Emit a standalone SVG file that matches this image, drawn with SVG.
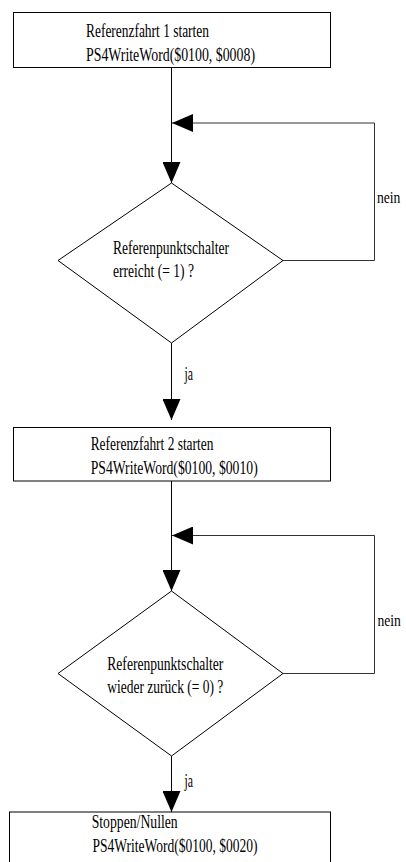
<svg xmlns="http://www.w3.org/2000/svg" width="406" height="862" viewBox="0 0 406 862">
<style>
  .box { fill: #fff; stroke: #000; stroke-width: 1; }
  .t { font-family: "Liberation Serif", "Times New Roman", serif; font-size: 19px; fill: #000; }
  .s { font-size: 16px; }
  .c { fill: none; stroke: #000; stroke-width: 1; }
  .g { fill: none; stroke: #333; stroke-width: 1; }
</style>
<defs>
  <marker id="arr" markerUnits="userSpaceOnUse" markerWidth="21" markerHeight="18" refX="21" refY="9" orient="auto">
    <path d="M0,0 L21,9 L0,18 z" fill="#000"/>
  </marker>
</defs>
<rect width="406" height="862" fill="#fff"/>
<g id="connectors">
  <path class="c" d="M171.5,68 V183" marker-end="url(#arr)"/>
  <path class="g" d="M283,260.5 H374.5 V123 H172" marker-end="url(#arr)"/>
  <path class="c" d="M171.5,343 V420" marker-end="url(#arr)"/>
  <path class="c" d="M171.5,481 V591" marker-end="url(#arr)"/>
  <path class="g" d="M283,673.5 H374.5 V535.5 H172" marker-end="url(#arr)"/>
  <path class="c" d="M171.5,756 V812" marker-end="url(#arr)"/>
  <text class="t s" x="377" y="203" textLength="23.4" lengthAdjust="spacingAndGlyphs">nein</text>
  <text class="t" x="184.5" y="380" textLength="8.5" lengthAdjust="spacingAndGlyphs">ja</text>
  <text class="t s" x="377.5" y="626" textLength="23.4" lengthAdjust="spacingAndGlyphs">nein</text>
  <text class="t" x="184.5" y="787" textLength="8.5" lengthAdjust="spacingAndGlyphs">ja</text>
</g>
<g id="start1">
  <rect class="box" x="13.5" y="12.5" width="317" height="55"/>
  <text class="t" x="86" y="37" textLength="123" lengthAdjust="spacingAndGlyphs">Referenzfahrt 1 starten</text>
  <text class="t" x="86" y="61" textLength="169" lengthAdjust="spacingAndGlyphs">PS4WriteWord($0100, $0008)</text>
</g>
<g id="check1">
  <polygon class="box" points="171.5,183 283,260.5 171.5,343 58,260.5"/>
  <text class="t" x="113" y="254" textLength="116" lengthAdjust="spacingAndGlyphs">Referenpunktschalter</text>
  <text class="t" x="113" y="277" textLength="81" lengthAdjust="spacingAndGlyphs">erreicht (= 1) ?</text>
</g>
<g id="start2">
  <rect class="box" x="13.5" y="427.5" width="317" height="53.5"/>
  <text class="t" x="90.7" y="449.5" textLength="122.7" lengthAdjust="spacingAndGlyphs">Referenzfahrt 2 starten</text>
  <text class="t" x="90.7" y="473.5" textLength="167" lengthAdjust="spacingAndGlyphs">PS4WriteWord($0100, $0010)</text>
</g>
<g id="check2">
  <polygon class="box" points="171.5,591 283,673.5 171.5,756 58,673.5"/>
  <text class="t" x="107.3" y="670" textLength="116" lengthAdjust="spacingAndGlyphs">Referenpunktschalter</text>
  <text class="t" x="107.3" y="693" textLength="116" lengthAdjust="spacingAndGlyphs">wieder zurück (= 0) ?</text>
</g>
<g id="stop">
  <rect class="box" x="9.5" y="812" width="321" height="60"/>
  <text class="t" x="91.7" y="828" textLength="86" lengthAdjust="spacingAndGlyphs">Stoppen/Nullen</text>
  <text class="t" x="92.5" y="852" textLength="165" lengthAdjust="spacingAndGlyphs">PS4WriteWord($0100, $0020)</text>
</g>
</svg>
